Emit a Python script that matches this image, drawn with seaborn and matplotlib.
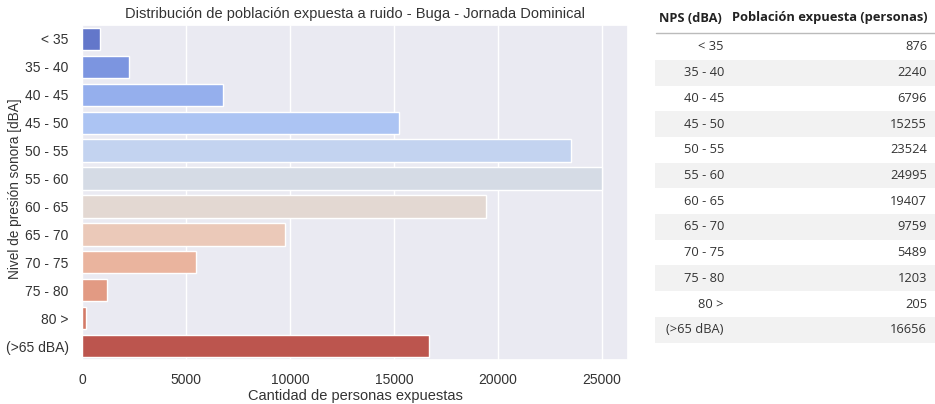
import matplotlib
matplotlib.use("Agg")
import matplotlib.pyplot as plt
import seaborn as sns
import pandas as pd

# datos
niveles = ["< 35", "35 - 40", "40 - 45", "45 - 50", "50 - 55", "55 - 60",
           "60 - 65", "65 - 70", "70 - 75", "75 - 80", "80 >", "(>65 dBA)"]
poblacion = [876, 2240, 6796, 15255, 23524, 24995, 19407, 9759, 5489, 1203, 205, 16656]

titulo = "Distribución de población expuesta a ruido - Buga - Jornada Dominical"
col_nps = "NPS (dBA)"
col_pob = "Población expuesta (personas)"

df = pd.DataFrame({"NPS": niveles, "Poblacion": poblacion})

sns.set_theme(style="darkgrid")
plt.rcParams['font.family'] = ['Liberation Sans', 'DejaVu Sans']

fig = plt.figure(figsize=(9.35, 4.04), dpi=100)
ax = fig.add_axes([82 / 935, 1 - 360 / 404, 546 / 935, 335 / 404])

sns.barplot(ax=ax, data=df, y="NPS", x="Poblacion", hue="NPS",
            palette="coolwarm", legend=False, orient="h")
ax.set_title(titulo, fontsize=10.5, color="#333333", pad=5)
ax.set_xlabel("Cantidad de personas expuestas", fontsize=10.5, color="#333333", labelpad=1)
ax.set_ylabel("Nivel de presión sonora [dBA]", fontsize=9.8, color="#333333")
ax.yaxis.set_label_coords(-0.11, 0.51)
ax.tick_params(labelsize=10, colors="#333333")
ax.set_xticks([0, 5000, 10000, 15000, 20000, 25000])

# tabla a la derecha
tx = fig.add_axes([655 / 935, 0, 280 / 935, 1])
tx.set_xlim(655, 935)
tx.set_ylim(404, 0)
tx.axis("off")
tf = ['Open Sans', 'DejaVu Sans']
tx.text(722, 18, col_nps, ha="right", va="center", fontsize=9.3, fontweight="bold",
        family=tf, color="#222222")
tx.text(927, 18, col_pob, ha="right", va="center", fontsize=9.3, fontweight="bold",
        family=tf, color="#222222")
tx.plot([656, 935], [33, 33], color="#bbbbbb", lw=1)
paso = 25.7
for i, (n, p) in enumerate(zip(niveles, poblacion)):
    yc = 47 + i * paso
    if i % 2 == 1:
        tx.axhspan(yc - paso / 2, yc + paso / 2, xmin=0, xmax=1, color="#f2f2f2", lw=0)
    tx.text(724, yc, n, ha="right", va="center", fontsize=9.3, family=tf, color="#333333")
    tx.text(927, yc, str(p), ha="right", va="center", fontsize=9.3, family=tf, color="#333333")

fig.savefig("out.png", dpi=100)
